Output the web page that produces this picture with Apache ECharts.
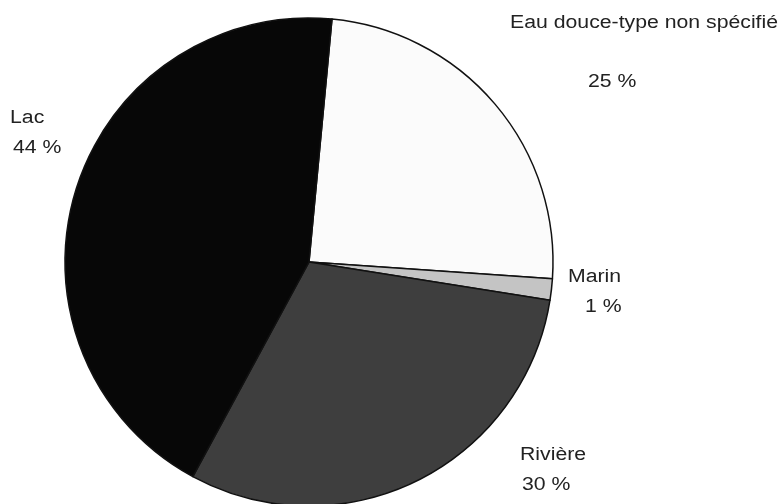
<!DOCTYPE html>
<html>
<head>
<meta charset="utf-8">
<script src="https://cdn.jsdelivr.net/npm/echarts@6/dist/echarts.min.js"></script>
<style>
html,body{margin:0;padding:0;background:#fff;}
#chart{width:782px;height:504px;}
</style>
</head>
<body>
<div id="chart"></div>
<script>
// Data (slice shares; labels as printed)
var categories = ['Eau douce-type non spécifié', 'Marin', 'Rivière', 'Lac'];
var values = [24.6, 1.4, 30.4, 43.6];
var percentLabels = ['25 %', '1 %', '30 %', '44 %'];

// Styles / layout (not data)
var colors = ['#fbfbfb', '#c4c4c4', '#3e3e3e', '#070707'];
var labelPos = [
  {name: [510, 23], pct: [588, 82]},
  {name: [568, 277], pct: [585, 307]},
  {name: [520, 455], pct: [522, 485]},
  {name: [10, 118], pct: [13, 148]}
];

var font = '"Liberation Sans", Arial, sans-serif';
var graphics = [];
function addText(str, p) {
  graphics.push({
    type: 'text', x: p[0], y: p[1], scaleX: 1.18, scaleY: 1,
    style: {text: str, fill: '#222', font: '18px ' + font, verticalAlign: 'middle', align: 'left'}
  });
}
categories.forEach(function (c, i) {
  addText(c, labelPos[i].name);
  addText(percentLabels[i], labelPos[i].pct);
});

var chart = echarts.init(document.getElementById('chart'), null, {renderer: 'canvas'});
chart.setOption({
  backgroundColor: '#ffffff',
  animation: false,
  graphic: graphics,
  series: [{
    type: 'pie',
    center: [309, 262],
    radius: 244,
    startAngle: 84.6,
    clockwise: true,
    avoidLabelOverlap: false,
    label: {show: false},
    labelLine: {show: false},
    emphasis: {disabled: true},
    itemStyle: {borderColor: '#111', borderWidth: 1.5},
    data: categories.map(function (c, i) {
      return {name: c, value: values[i], itemStyle: {color: colors[i]}};
    })
  }]
});
</script>
</body>
</html>
